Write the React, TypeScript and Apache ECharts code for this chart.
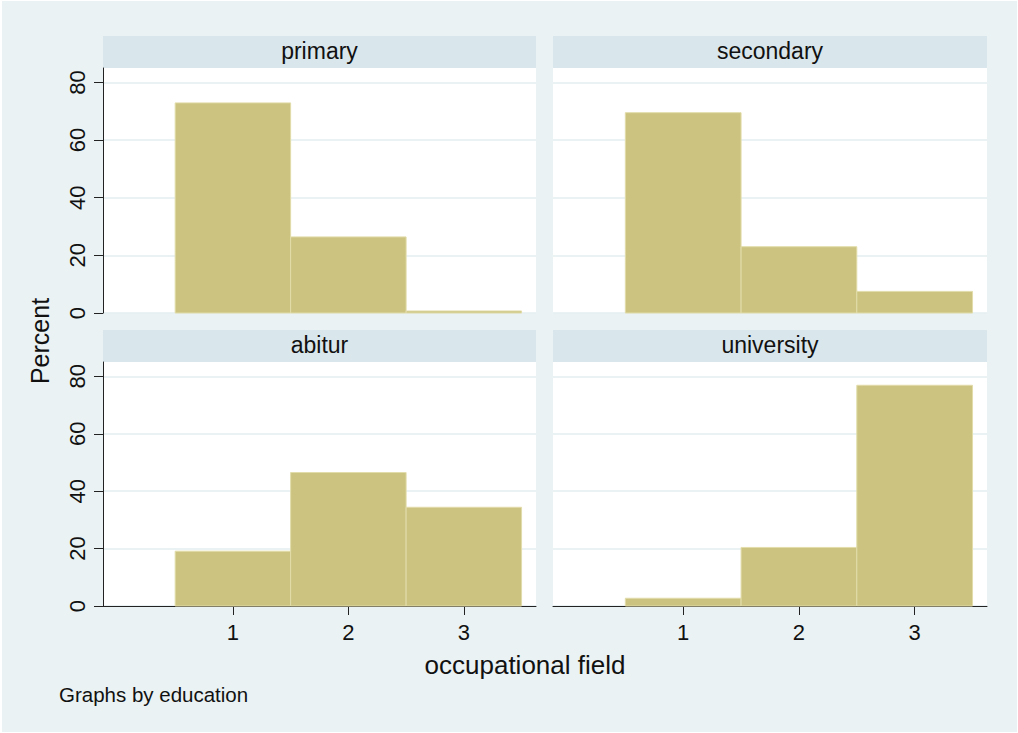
import React, { useEffect, useRef } from 'react';
import * as echarts from 'echarts';

// ---- data ----
const educationLevels = ['primary', 'secondary', 'abitur', 'university'];
const occupationalFields = [1, 2, 3];
const primaryPercent = [72.9, 26.4, 0.7];
const secondaryPercent = [69.5, 23.0, 7.5];
const abiturPercent = [19.1, 46.5, 34.4];
const universityPercent = [2.7, 20.4, 76.9];
const yTickValues = [0, 20, 40, 60, 80];
const xTickValues = [1, 2, 3];
const binWidth = 1;

const yAxisTitle = 'Percent';
const xAxisTitle = 'occupational field';
const noteText = 'Graphs by education';

// ---- style ----
const FONT = '"Liberation Sans", Arial, Helvetica, sans-serif';
const BG = '#eaf2f3';
const STRIP = '#d9e6eb';
const GRID_LINE = '#e5eef0';
const BAR = '#cbc37f';
const BAR_EDGE = '#e2dcaa';
const AXIS = '#222';
const TEXT = '#111';

const panelGrids = [
  { left: 103, top: 68, width: 433, height: 245 },
  { left: 553, top: 68, width: 434, height: 245 },
  { left: 103, top: 362, width: 433, height: 244 },
  { left: 553, top: 362, width: 434, height: 244 },
];
const STRIP_H = 32;

export default function App() {
  const ref = useRef<HTMLDivElement>(null);

  useEffect(() => {
    if (!ref.current) return;
    const chart = echarts.init(ref.current, undefined, { renderer: 'svg' });
    const seriesValues = [primaryPercent, secondaryPercent, abiturPercent, universityPercent];

    const grids = panelGrids.map((g) => ({
      ...g,
      show: true,
      backgroundColor: '#ffffff',
      borderWidth: 0,
      containLabel: false,
    }));

    const xAxes = panelGrids.map((_, i) => {
      const bottom = i >= 2;
      return {
        type: 'value',
        gridIndex: i,
        min: -0.125,
        max: 3.625,
        splitLine: { show: false },
        axisLine: { show: bottom, onZero: false, lineStyle: { color: AXIS, width: 1 } },
        axisTick: {
          show: bottom,
          length: 9,
          customValues: xTickValues,
          lineStyle: { color: AXIS, width: 1 },
        },
        axisLabel: {
          show: bottom,
          customValues: xTickValues,
          margin: 15,
          fontSize: 22,
          fontFamily: FONT,
          color: TEXT,
        },
      };
    });

    const yAxes = panelGrids.map((_, i) => {
      const left = i % 2 === 0;
      return {
        type: 'value',
        gridIndex: i,
        min: 0,
        max: 85,
        interval: 20,
        splitLine: { show: true, lineStyle: { color: GRID_LINE, width: 1.6 } },
        axisLine: { show: left, onZero: false, lineStyle: { color: AXIS, width: 1 } },
        axisTick: {
          show: left,
          length: 9,
          customValues: yTickValues,
          lineStyle: { color: AXIS, width: 1 },
        },
        axisLabel: {
          show: left,
          customValues: yTickValues,
          rotate: 90,
          margin: 15,
          fontSize: 22,
          fontFamily: FONT,
          color: TEXT,
        },
      };
    });

    const series = seriesValues.map((vals, i) => ({
      type: 'custom',
      name: educationLevels[i],
      xAxisIndex: i,
      yAxisIndex: i,
      encode: { x: 0, y: 1 },
      data: occupationalFields.map((f, j) => [f, vals[j]]),
      renderItem: (params: any, api: any) => {
        const x = api.value(0) as number;
        const v = api.value(1) as number;
        const a = api.coord([x - binWidth / 2, v]);
        const b = api.coord([x + binWidth / 2, 0]);
        return {
          type: 'rect',
          shape: { x: a[0], y: a[1], width: b[0] - a[0], height: b[1] - a[1] },
          style: { fill: BAR, stroke: BAR_EDGE, lineWidth: 1 },
        };
      },
    }));

    const graphics: any[] = [];
    panelGrids.forEach((g, i) => {
      graphics.push({
        type: 'rect',
        shape: { x: g.left, y: g.top - STRIP_H, width: g.width, height: STRIP_H },
        style: { fill: STRIP },
        silent: true,
      });
      graphics.push({
        type: 'text',
        x: g.left + g.width / 2,
        y: g.top - STRIP_H / 2 - 1.5,
        style: {
          text: educationLevels[i],
          fontSize: 23,
          fontFamily: FONT,
          fill: TEXT,
          align: 'center',
          verticalAlign: 'middle',
        },
        silent: true,
      });
    });
    graphics.push({
      type: 'text',
      x: 40,
      y: 341,
      rotation: Math.PI / 2,
      style: {
        text: yAxisTitle,
        fontSize: 25,
        fontFamily: FONT,
        fill: TEXT,
        align: 'center',
        verticalAlign: 'middle',
      },
      silent: true,
    });
    graphics.push({
      type: 'text',
      x: 525,
      y: 664.5,
      style: {
        text: xAxisTitle,
        fontSize: 26,
        fontFamily: FONT,
        fill: TEXT,
        align: 'center',
        verticalAlign: 'middle',
      },
      silent: true,
    });
    graphics.push({
      type: 'text',
      x: 59,
      y: 694,
      style: {
        text: noteText,
        fontSize: 20.5,
        fontFamily: FONT,
        fill: TEXT,
        align: 'left',
        verticalAlign: 'middle',
      },
      silent: true,
    });

    chart.setOption({
      animation: false,
      backgroundColor: 'transparent',
      grid: grids,
      xAxis: xAxes,
      yAxis: yAxes,
      series,
      graphic: graphics,
    } as any);

    return () => chart.dispose();
  }, []);

  return (
    <div style={{ position: 'absolute', left: 0, top: 0, width: 1018, height: 733, background: '#ffffff' }}>
      <div style={{ position: 'absolute', left: 2, top: 1, width: 1015, height: 731, background: BG }} />
      <div ref={ref} style={{ position: 'absolute', left: 0, top: 0, width: 1018, height: 733 }} />
    </div>
  );
}
